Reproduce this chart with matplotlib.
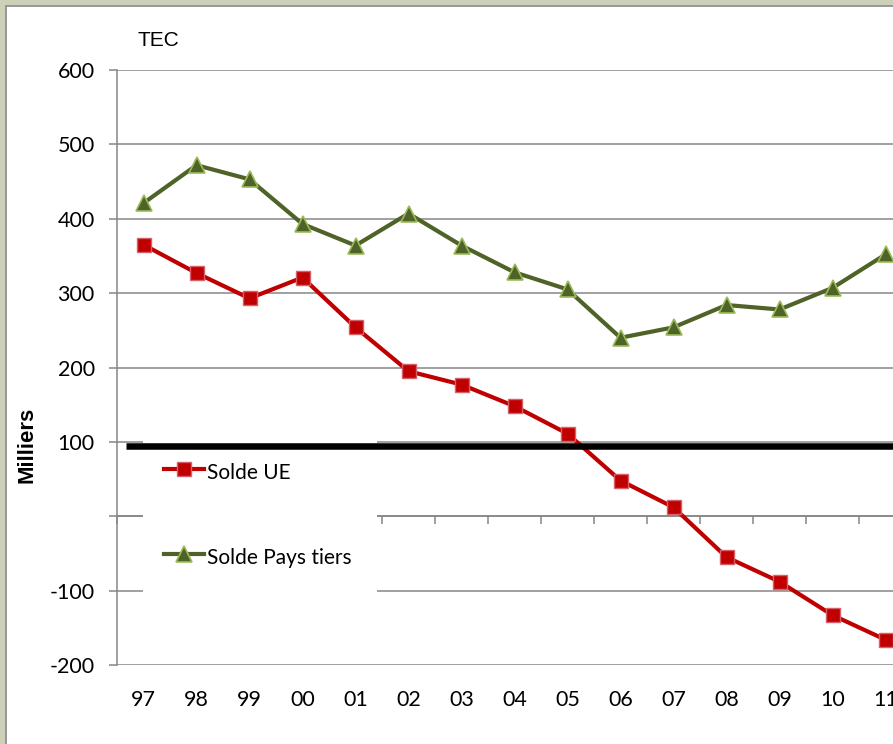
import matplotlib
matplotlib.use("Agg")
import matplotlib.pyplot as plt
from matplotlib.patches import Rectangle

# data
years = ["97", "98", "99", "00", "01", "02", "03", "04", "05", "06", "07", "08", "09", "10", "11"]
solde_ue = [365, 327, 293, 321, 254, 195, 177, 148, 111, 48, 12, -55, -88, -133, -166]
solde_pays_tiers = [421, 472, 453, 393, 364, 407, 364, 328, 305, 240, 254, 284, 278, 307, 352]
seuil = 95
y_ticks = [-200, -100, 0, 100, 200, 300, 400, 500, 600]
y_labels = ["-200", "-100", "", "100", "200", "300", "400", "500", "600"]

GRID = "#868686"
RED = "#c00000"
GREEN = "#4f6228"
W, H = 893, 744

plt.rcParams["font.family"] = ["Lato", "DejaVu Sans"]

fig = plt.figure(figsize=(W / 100, H / 100), dpi=100, facecolor="#cdd1ba")
fig.patches.append(Rectangle((6 / W, -0.01), 1.0, 1 - 6 / H + 0.01, transform=fig.transFigure,
                             facecolor="white", edgecolor="#8a8a8a", linewidth=1.2, zorder=-1))

left, right, top, bottom = 117, 912, 70, 665
ax = fig.add_axes([left / W, 1 - bottom / H, (right - left) / W, (bottom - top) / H])
ax.set_facecolor("none")

x = list(range(len(years)))
ax.plot(x, solde_ue, color=RED, lw=3.0, marker="s", ms=10, mfc=RED, mec="#d6606a", mew=1,
        label="Solde UE", zorder=3)
ax.plot(x, solde_pays_tiers, color=GREEN, lw=3.0, marker="^", ms=11.5, mfc=GREEN, mec="#9bbb59",
        mew=1.2, label="Solde Pays tiers", zorder=3)

ax.set_xlim(-0.5, len(years) - 0.5)
ax.set_ylim(-200, 600)
ax.set_yticks(y_ticks, y_labels)
ax.set_xticks(x, years)
ax.tick_params(axis="x", length=0, pad=18, labelsize=15.5)
ax.tick_params(axis="y", length=6, color=GRID, width=1.1, pad=10, labelsize=15.5)
ax.grid(axis="y", color=GRID, lw=1.1)
ax.set_axisbelow(True)
for side in ["top", "right", "bottom"]:
    ax.spines[side].set_visible(False)
ax.spines["left"].set_color(GRID)
ax.spines["left"].set_linewidth(1.1)

# category axis crossing at zero, ticks between categories
sec = ax.secondary_xaxis((0 + 200) / 800)
sec.set_xticks([i - 0.5 for i in x] + [len(years) - 0.5])
sec.tick_params(length=6, color=GRID, width=1.1, labelbottom=False, labeltop=False)
sec.spines["bottom"].set_color(GRID)
sec.spines["bottom"].set_linewidth(1.1)

leg = ax.legend(loc="upper left", bbox_to_anchor=(143 / W, 1 - 600 / H, (377 - 143) / W, (600 - 438) / H),
                bbox_transform=fig.transFigure, mode="expand", borderaxespad=0, borderpad=1.0,
                labelspacing=2.8, handlelength=1.92, handleheight=1.6, handletextpad=0.15,
                fontsize=15, frameon=True, fancybox=False, framealpha=1,
                facecolor="white", edgecolor="white")
leg.get_frame().set_linewidth(0)

ax.axhline(seuil, xmin=(126 - left) / (right - left), xmax=1, color="black", lw=4.7,
           solid_capstyle="butt", zorder=6)

fig.text(158 / W, 1 - 41 / H, "TEC", ha="center", va="center", fontsize=15,
         family=["Liberation Sans", "DejaVu Sans"])
fig.text(27 / W, 1 - 445 / H, "Milliers", ha="center", va="center", rotation=90, fontsize=16,
         fontweight="bold", family=["Liberation Sans", "DejaVu Sans"])

fig.savefig("out.png", dpi=100, facecolor=fig.get_facecolor())
